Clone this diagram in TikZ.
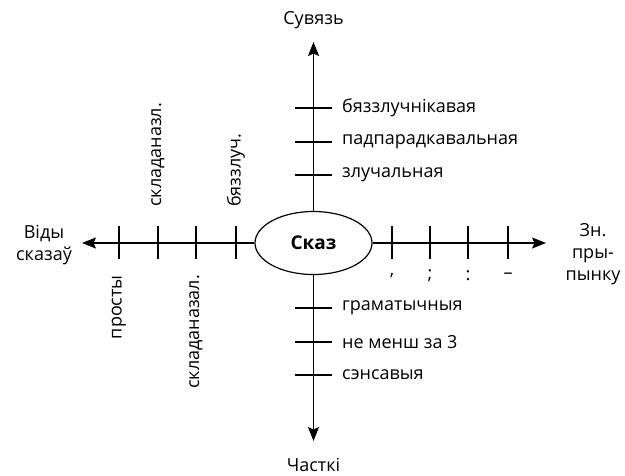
\documentclass[tikz,border=0pt]{standalone}
\usepackage{fontspec}
\setmainfont{Open Sans}
\usetikzlibrary{shapes.geometric,arrows.meta}
\begin{document}
\begin{tikzpicture}[x=1pt,y=-1pt,
  axis/.style={line width=1.2pt,-{Stealth[length=14pt,width=11pt,inset=2.5pt]}},
  tick/.style={line width=1.2pt},
  lbl/.style={font=\fontsize{18}{21}\selectfont,inner sep=0pt},
  endlbl/.style={font=\fontsize{18}{22}\selectfont,align=center,inner sep=0pt},
  rot/.style={lbl,rotate=90}]
\useasboundingbox (0,0) rectangle (625,475);
% central node
\node[ellipse,draw,line width=1.2pt,minimum width=117pt,minimum height=63pt,
      font=\fontsize{19}{22}\selectfont\bfseries] (core) at (313.5,243) {Сказ};
% axis ends
\coordinate (top) at (313.5,42);
\coordinate (bot) at (313.5,441);
\coordinate (lft) at (82,243);
\coordinate (rgt) at (546,243);
\draw[axis] (core.north) -- (top);
\draw[axis] (core.south) -- (bot);
\draw[axis] (core.west) -- (lft);
\draw[axis] (core.east) -- (rgt);
% axis titles
\node[endlbl] (tTop) at (313.5,20) {Сувязь};
\node[endlbl] (tBot) at (313.5,465) {Часткі};
\node[endlbl] (tLft) at (44,245) {Віды\\сказаў};
\node[endlbl] (tRgt) at (593,254) {Зн.\\пры-\\пынку};
% upper branch
\foreach \y/\t in {108/бяззлучнікавая,142/падпарадкавальная,175/злучальная}{
  \draw[tick] (295,\y) -- (332,\y);
  \node[lbl,anchor=west] at (342,\y) {\t};
}
% lower branch
\foreach \y/\t in {308/граматычныя,342/не менш за 3,375/сэнсавыя}{
  \draw[tick] (295,\y) -- (332,\y);
  \node[lbl,anchor=west] at (342,\y) {\t};
}
% left branch
\foreach \x in {119,158,196,236}{
  \draw[tick] (\x,226) -- (\x,259);
}
\node[rot,anchor=west] at (158,207) {складаназл.};
\node[rot,anchor=west] at (236,207) {бяззлуч.};
\node[rot,anchor=east] at (119,275) {просты};
\node[rot,anchor=east] at (196,275) {складаназал.};
% right branch
\foreach \x/\t in {392/{,},430/{;},468/{:},508/{–}}{
  \draw[tick] (\x,226) -- (\x,259);
  \node[lbl] at (\x,276) {\t};
}
\end{tikzpicture}
\end{document}
